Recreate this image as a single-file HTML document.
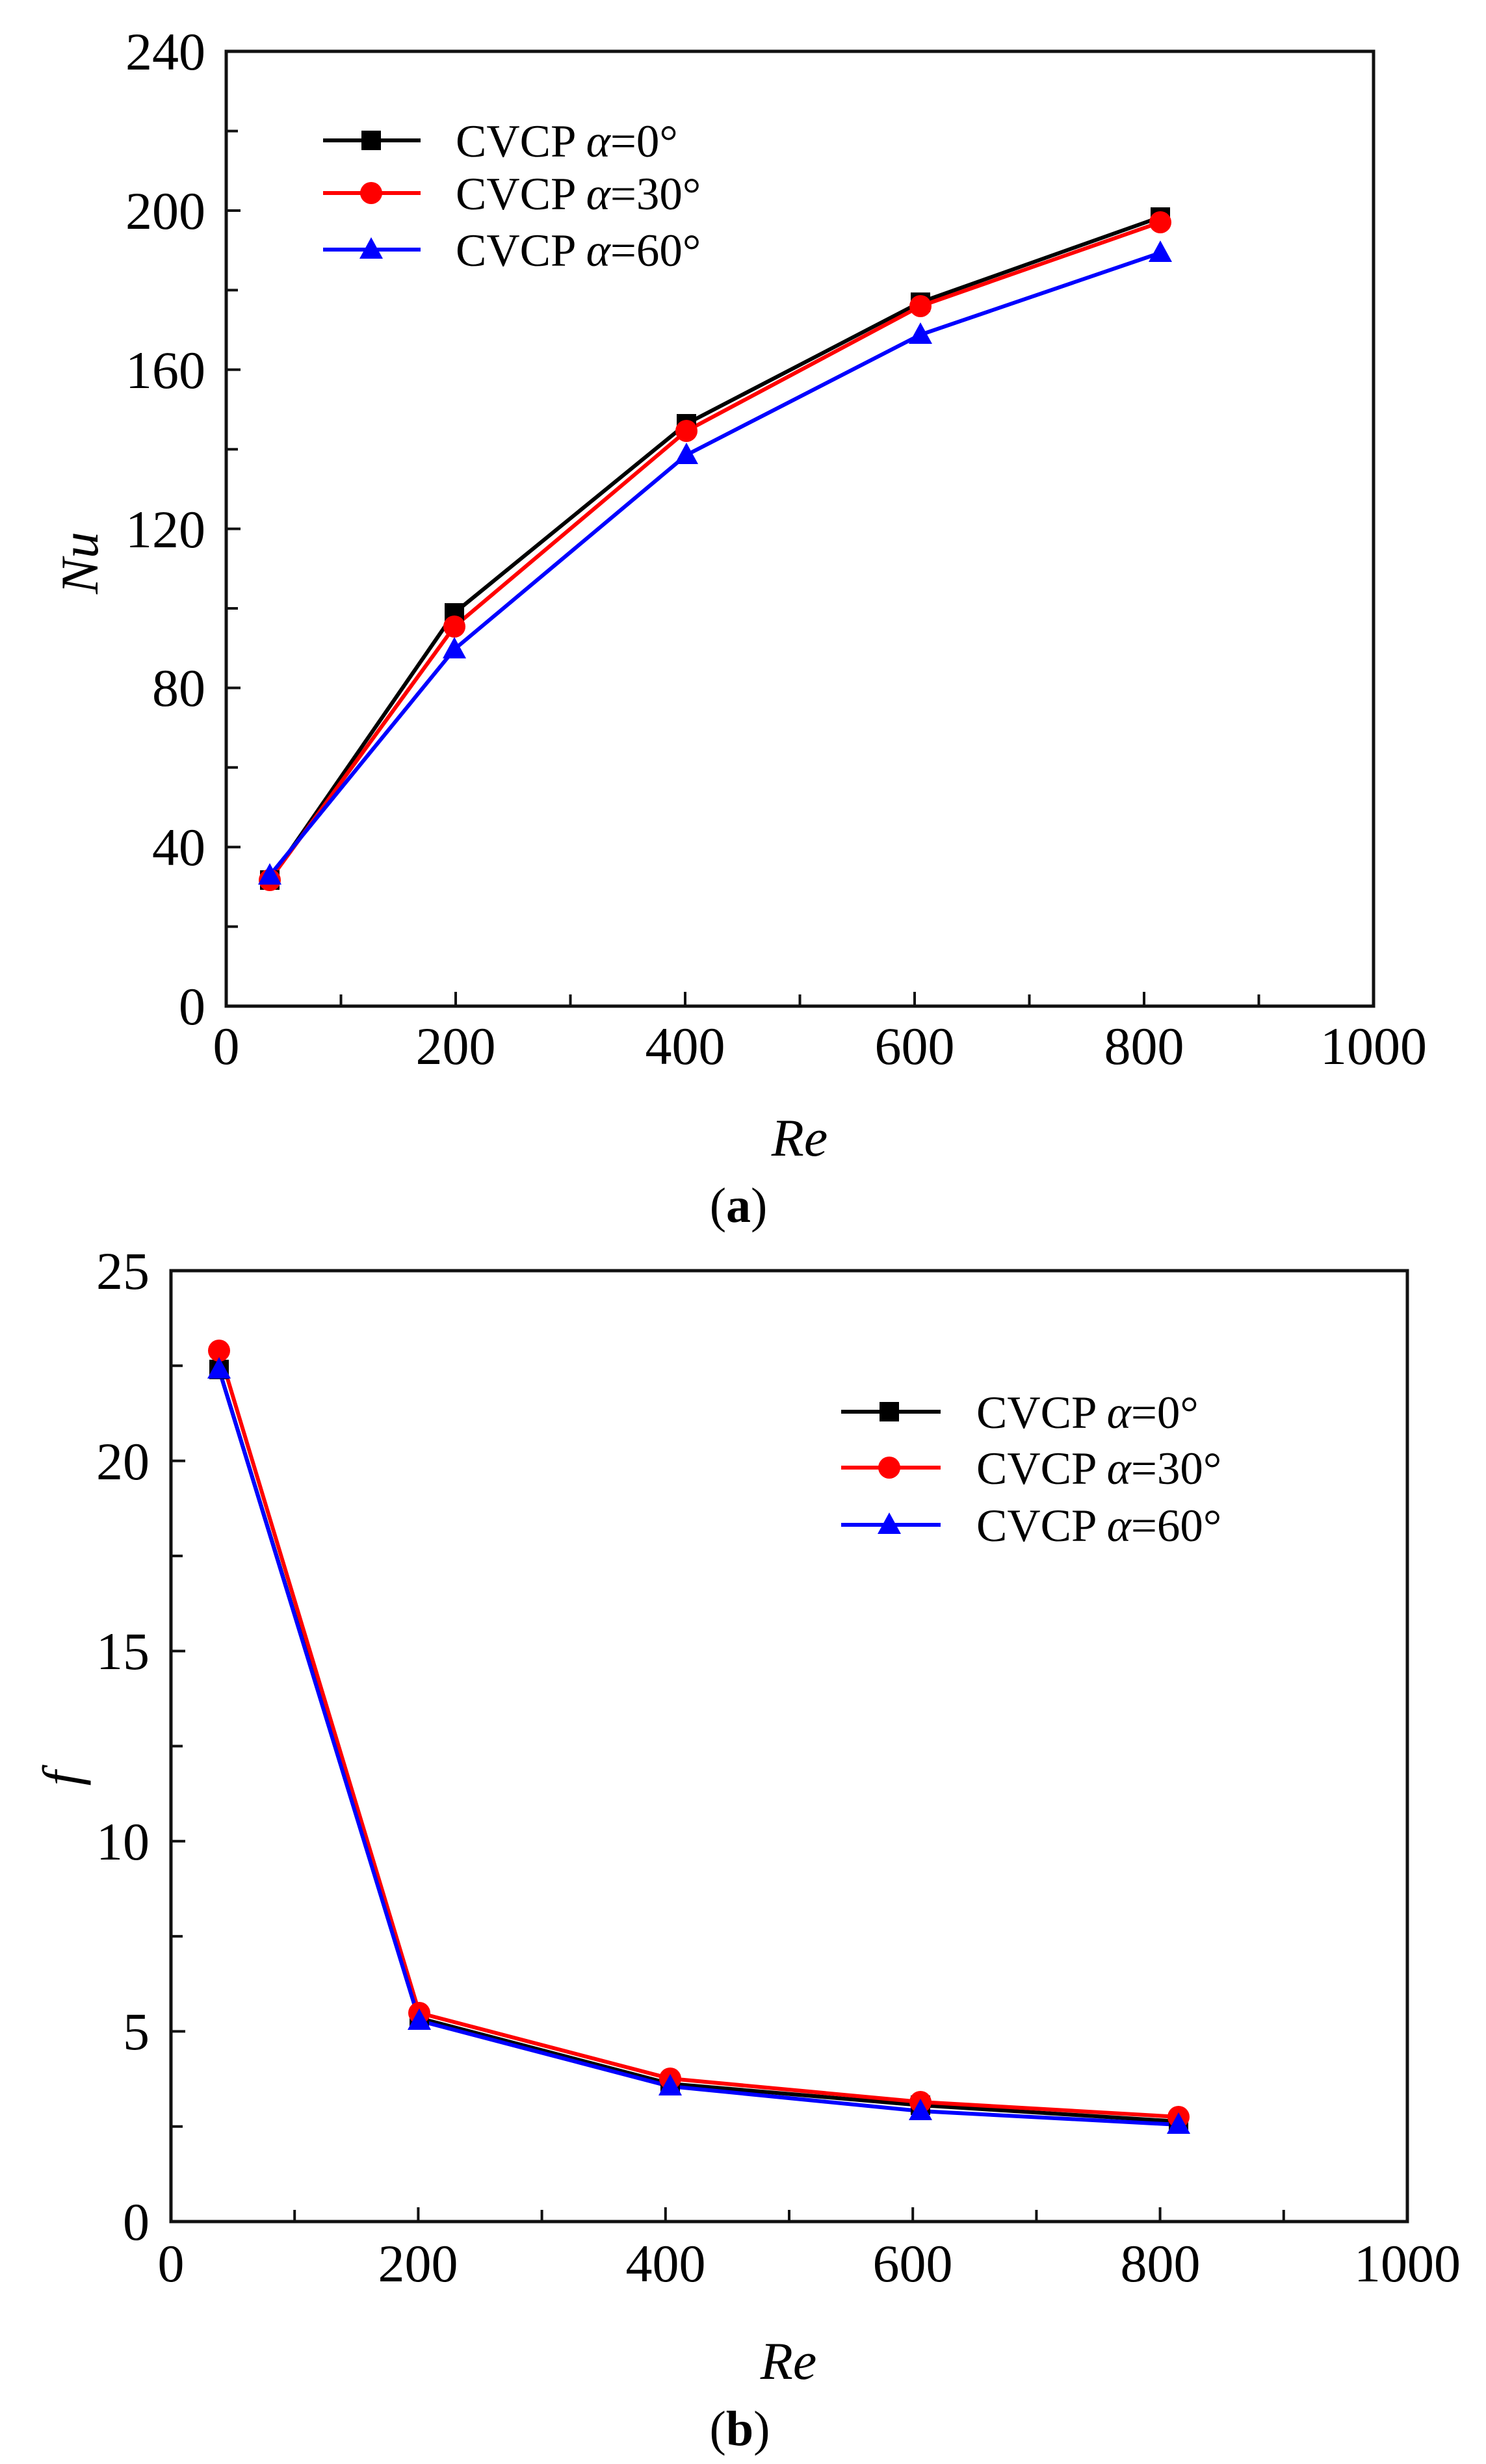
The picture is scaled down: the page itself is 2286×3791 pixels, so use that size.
<!DOCTYPE html>
<html><head><meta charset="utf-8"><style>html,body{margin:0;padding:0;background:#fff}svg{display:block}</style></head><body>
<svg width="2286" height="3791" viewBox="0 0 2286 3791" xmlns="http://www.w3.org/2000/svg" font-family="Liberation Serif, serif" fill="#000">
<defs>
<g id="sq"><rect x="-15" y="-15" width="30" height="30" fill="#000"/></g>
<g id="ci"><circle r="17" fill="#f00"/></g>
<g id="tr"><polygon points="0,-19 18,14 -18,14" fill="#00f"/></g>
</defs>
<!-- Chart a -->
<rect x="348" y="79" width="1765" height="1469" fill="none" stroke="#111" stroke-width="5"/>
<g stroke="#111" stroke-width="4">
<path d="M524.5 1548v-18M701 1548v-22M877.5 1548v-18M1054 1548v-22M1230.5 1548v-18M1407 1548v-22M1583.5 1548v-18M1760 1548v-22M1936.5 1548v-18"/>
<path d="M348 1425.6h18M348 1303.2h22M348 1180.8h18M348 1058.4h22M348 936h18M348 813.6h22M348 691.2h18M348 568.8h22M348 446.4h18M348 324h22M348 201.6h18"/>
</g>
<g font-size="82" text-anchor="middle">
<text x="348" y="1637">0</text><text x="701" y="1637">200</text><text x="1054" y="1637">400</text><text x="1407" y="1637">600</text><text x="1760" y="1637">800</text><text x="2113" y="1637">1000</text>
</g>
<g font-size="82" text-anchor="end">
<text x="316" y="1576">0</text><text x="316" y="1331">40</text><text x="316" y="1086">80</text><text x="316" y="842">120</text><text x="316" y="597">160</text><text x="316" y="352">200</text><text x="316" y="107">240</text>
</g>
<text x="1230" y="1778" font-size="82" font-style="italic" text-anchor="middle">Re</text>
<text transform="translate(150,866) rotate(-90)" font-size="82" font-style="italic" text-anchor="middle">Nu</text>
<text x="1136" y="1880" font-size="76" text-anchor="middle">(<tspan font-weight="bold">a</tspan>)</text>
<g fill="none" stroke-width="6" stroke-linejoin="round">
<polyline stroke="#000" points="415,1354 699,943 1056,652 1416,465 1785,334"/>
<polyline stroke="#f00" points="415,1354 699,964 1056,663 1416,471 1785,342"/>
<polyline stroke="#00f" points="415,1347 699,999 1056,700 1416,515 1785,389"/>
</g>
<use href="#sq" x="415" y="1354"/><use href="#sq" x="699" y="943"/><use href="#sq" x="1056" y="652"/><use href="#sq" x="1416" y="465"/><use href="#sq" x="1785" y="334"/>
<use href="#ci" x="415" y="1354"/><use href="#ci" x="699" y="964"/><use href="#ci" x="1056" y="663"/><use href="#ci" x="1416" y="471"/><use href="#ci" x="1785" y="342"/>
<use href="#tr" x="415" y="1347"/><use href="#tr" x="699" y="999"/><use href="#tr" x="1056" y="700"/><use href="#tr" x="1416" y="515"/><use href="#tr" x="1785" y="389"/>
<g stroke-width="6"><line x1="497" y1="216" x2="647" y2="216" stroke="#000"/><line x1="497" y1="297" x2="647" y2="297" stroke="#f00"/><line x1="497" y1="384" x2="647" y2="384" stroke="#00f"/></g>
<use href="#sq" x="571" y="216"/><use href="#ci" x="571" y="297"/><use href="#tr" x="571" y="384"/>
<g font-size="71"><text x="701" y="241">CVCP <tspan font-style="italic">α</tspan>=0°</text><text x="701" y="322">CVCP <tspan font-style="italic">α</tspan>=30°</text><text x="701" y="409">CVCP <tspan font-style="italic">α</tspan>=60°</text></g>

<!-- Chart b -->
<rect x="263" y="1955" width="1902" height="1463" fill="none" stroke="#111" stroke-width="5"/>
<g stroke="#111" stroke-width="4">
<path d="M453.2 3418v-18M643.4 3418v-22M833.6 3418v-18M1023.8 3418v-22M1214 3418v-18M1404.2 3418v-22M1594.4 3418v-18M1784.6 3418v-22M1974.8 3418v-18"/>
<path d="M263 3271.7h18M263 3125.4h22M263 2979.1h18M263 2832.8h22M263 2686.5h18M263 2540.2h22M263 2393.9h18M263 2247.6h22M263 2101.3h18"/>
</g>
<g font-size="82" text-anchor="middle">
<text x="263" y="3510">0</text><text x="643" y="3510">200</text><text x="1024" y="3510">400</text><text x="1404" y="3510">600</text><text x="1785" y="3510">800</text><text x="2165" y="3510">1000</text>
</g>
<g font-size="82" text-anchor="end">
<text x="230" y="3446">0</text><text x="230" y="3153">5</text><text x="230" y="2861">10</text><text x="230" y="2568">15</text><text x="230" y="2276">20</text><text x="230" y="1983">25</text>
</g>
<text x="1213" y="3660" font-size="82" font-style="italic" text-anchor="middle">Re</text>
<text transform="translate(122,2736) rotate(-90)" font-size="82" font-style="italic" text-anchor="middle">f</text>
<text x="1138" y="3762" font-size="76" text-anchor="middle">(<tspan font-weight="bold">b</tspan>)</text>
<g fill="none" stroke-width="6" stroke-linejoin="round">
<polyline stroke="#000" points="337,2107 645,3105 1031,3206 1416,3239 1813,3264"/>
<polyline stroke="#f00" points="337,2078 645,3097 1031,3198 1416,3234 1813,3257"/>
<polyline stroke="#00f" points="337,2107 645,3109 1031,3210 1416,3248 1813,3269"/>
</g>
<use href="#sq" x="337" y="2107"/><use href="#sq" x="645" y="3105"/><use href="#sq" x="1031" y="3206"/><use href="#sq" x="1416" y="3239"/><use href="#sq" x="1813" y="3264"/>
<use href="#ci" x="337" y="2078"/><use href="#ci" x="645" y="3097"/><use href="#ci" x="1031" y="3198"/><use href="#ci" x="1416" y="3234"/><use href="#ci" x="1813" y="3257"/>
<use href="#tr" x="337" y="2107"/><use href="#tr" x="645" y="3109"/><use href="#tr" x="1031" y="3210"/><use href="#tr" x="1416" y="3248"/><use href="#tr" x="1813" y="3269"/>
<g stroke-width="6"><line x1="1294" y1="2172" x2="1447" y2="2172" stroke="#000"/><line x1="1294" y1="2258" x2="1447" y2="2258" stroke="#f00"/><line x1="1294" y1="2346" x2="1447" y2="2346" stroke="#00f"/></g>
<use href="#sq" x="1368" y="2172"/><use href="#ci" x="1368" y="2258"/><use href="#tr" x="1368" y="2346"/>
<g font-size="71"><text x="1502" y="2197">CVCP <tspan font-style="italic">α</tspan>=0°</text><text x="1502" y="2283">CVCP <tspan font-style="italic">α</tspan>=30°</text><text x="1502" y="2371">CVCP <tspan font-style="italic">α</tspan>=60°</text></g>
</svg>
</body></html>
